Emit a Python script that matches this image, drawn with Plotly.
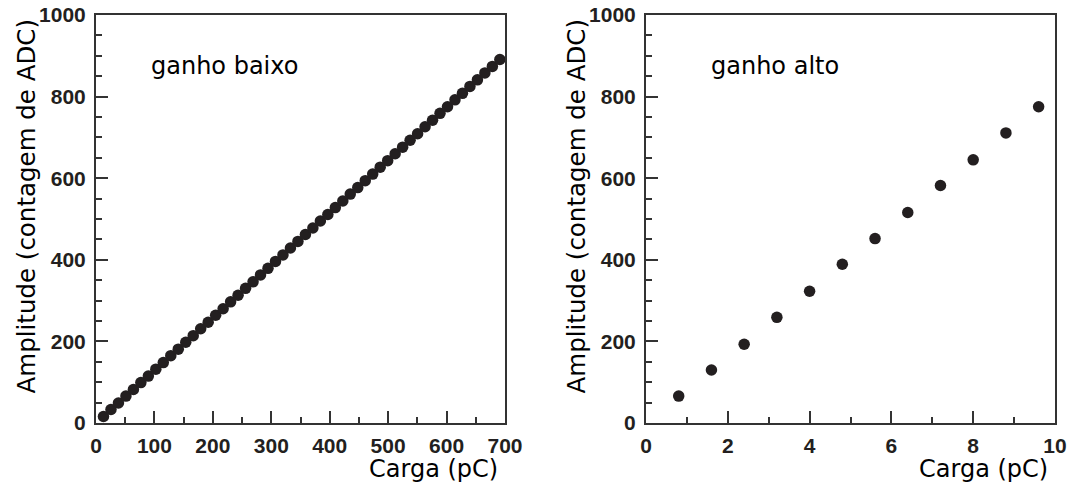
import plotly.graph_objects as go

# ---- data ----
low_gain_charge = [12.8, 25.6, 38.4, 51.2, 64.0, 76.8, 89.6, 102.4, 115.2, 128.0,
                   140.8, 153.6, 166.4, 179.2, 192.0, 204.8, 217.6, 230.4, 243.2, 256.0,
                   268.8, 281.6, 294.4, 307.2, 320.0, 332.8, 345.6, 358.4, 371.2, 384.0,
                   396.8, 409.6, 422.4, 435.2, 448.0, 460.8, 473.6, 486.4, 499.2, 512.0,
                   524.8, 537.6, 550.4, 563.2, 576.0, 588.8, 601.6, 614.4, 627.2, 640.0,
                   652.8, 665.6, 678.4, 691.2]
low_gain_amp = [16, 33, 49, 66, 82, 99, 115, 132, 148, 165,
                181, 198, 214, 231, 247, 264, 280, 297, 313, 330,
                346, 363, 379, 396, 412, 429, 445, 462, 478, 495,
                511, 528, 544, 561, 577, 594, 610, 627, 643, 660,
                676, 693, 709, 726, 742, 759, 775, 792, 808, 825,
                841, 858, 874, 891]

high_gain_charge = [0.8, 1.6, 2.4, 3.2, 4.0, 4.8, 5.6, 6.4, 7.2, 8.0, 8.8, 9.6]
high_gain_amp = [66, 130, 193, 259, 323, 389, 452, 516, 582, 645, 711, 775]

panel_labels = ["ganho baixo", "ganho alto"]
x_title = "Carga (pC)"
y_title = "Amplitude (contagem de ADC)"

W, H = 1068, 484
MARK = "#231f20"
AX = "#333333"


def fx(px):
    return px / W


def fy(py):
    return (H - py) / H


fig = go.Figure()
fig.add_trace(go.Scatter(x=low_gain_charge, y=low_gain_amp, mode="markers",
                         marker=dict(size=11.5, color=MARK), xaxis="x", yaxis="y",
                         showlegend=False))
fig.add_trace(go.Scatter(x=high_gain_charge, y=high_gain_amp, mode="markers",
                         marker=dict(size=11.5, color=MARK), xaxis="x2", yaxis="y2",
                         showlegend=False))

tickfont = dict(family="Liberation Sans", size=21, color="#231f20", weight="bold")

TOP, BOT = 15, 423


def xaxis(left, right, rng, dtick, anchor):
    return dict(domain=[fx(left), fx(right)], range=rng, dtick=dtick, tick0=0,
                anchor=anchor, automargin=False, ticklabeloverflow="allow",
                showgrid=False, zeroline=False, showline=True, linecolor=AX,
                linewidth=2, mirror=True, ticks="inside", ticklen=12,
                tickwidth=2, tickcolor=AX, tickfont=tickfont,
                ticklabelstandoff=3,
                minor=dict(ticks="inside", ticklen=6, tickwidth=2, tickcolor=AX,
                           dtick=dtick / 2, showgrid=False))


def yaxis(anchor):
    return dict(domain=[fy(BOT), fy(TOP)], range=[0, 1000], dtick=200,
                tick0=0, anchor=anchor, automargin=False, ticklabeloverflow="allow",
                showgrid=False, zeroline=False, showline=True, linecolor=AX,
                linewidth=2, mirror=True, ticks="inside", ticklen=12,
                tickwidth=2, tickcolor=AX, tickfont=tickfont,
                ticklabelstandoff=4,
                minor=dict(ticks="inside", ticklen=6, tickwidth=2, tickcolor=AX,
                           dtick=50, showgrid=False))


titlefont = dict(family="DejaVu Sans", size=24, color="#000000")

annotations = []
for left, right in [(96, 505), (646, 1055)]:
    annotations.append(dict(text=x_title, xref="paper", yref="paper",
                            x=fx(right - 5), y=fy(469), xanchor="right",
                            yanchor="middle", showarrow=False, font=titlefont))
    annotations.append(dict(text=y_title, xref="paper", yref="paper",
                            x=fx(left - 70), y=fy(17), xanchor="center",
                            yanchor="top", textangle=-90, showarrow=False,
                            font=dict(family="DejaVu Sans", size=24.5, color="#000")))
annotations.append(dict(text=panel_labels[0], xref="paper", yref="paper",
                        x=fx(149), y=fy(66), xanchor="left", yanchor="middle",
                        showarrow=False, font=titlefont))
annotations.append(dict(text=panel_labels[1], xref="paper", yref="paper",
                        x=fx(709), y=fy(66), xanchor="left", yanchor="middle",
                        showarrow=False, font=titlefont))

fig.update_layout(
    width=W, height=H,
    margin=dict(l=0, r=0, t=0, b=0),
    paper_bgcolor="white", plot_bgcolor="white",
    xaxis=xaxis(96, 505, [0, 700], 100, "y"),
    yaxis=yaxis("x"),
    xaxis2=xaxis(646, 1055, [0, 10], 2, "y2"),
    yaxis2=yaxis("x2"),
    annotations=annotations,
)

fig.write_html(
    "out.html",
    config={"displayModeBar": False},
    post_script="document.body.style.margin='0';document.body.style.overflow='hidden';",
)
